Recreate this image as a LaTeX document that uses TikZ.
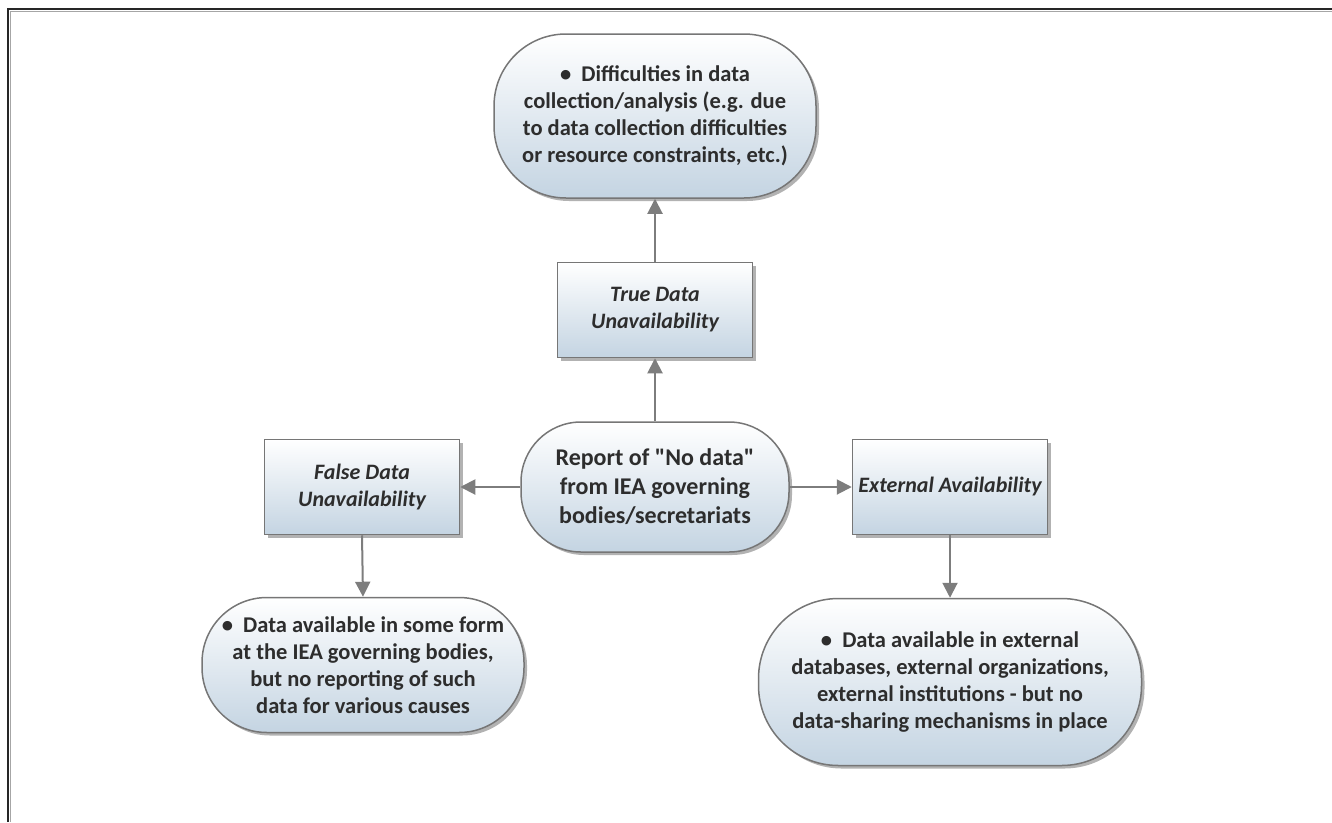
\documentclass[tikz,border=0pt]{standalone}
\usepackage{fontspec}
\setmainfont{Carlito}
\usetikzlibrary{arrows.meta,shadows}
\definecolor{bluegray}{RGB}{196,212,226}
\definecolor{edgegray}{RGB}{118,118,118}
\definecolor{txt}{RGB}{45,45,45}
\definecolor{conngray}{RGB}{125,125,125}
\tikzset{
  bubble/.style={draw=edgegray, line width=1.5pt, top color=white, bottom color=bluegray,
    rounded corners=#1, drop shadow={shadow xshift=3pt, shadow yshift=-3pt, fill=black, opacity=0.3},
    text=txt, align=center, inner sep=0pt, font=\fontsize{22.5}{27}\selectfont\bfseries},
  boxnode/.style={draw=edgegray, line width=1.5pt, top color=white, bottom color=bluegray,
    drop shadow={shadow xshift=3pt, shadow yshift=-3pt, fill=black, opacity=0.3},
    text=txt, align=center, inner sep=0pt, minimum width=195pt, minimum height=95pt,
    font=\fontsize{22}{27}\selectfont\bfseries\itshape},
  conn/.style={draw=conngray, line width=2pt, -{Triangle[length=15pt,width=15pt]}},
}
\begin{document}
\begin{tikzpicture}[x=1pt,y=-1pt]
\useasboundingbox (0,0) rectangle (1332,822);
\draw[line width=2.5pt, black!85] (8,822) -- (8,9) -- (1332,9);
\draw[line width=1.2pt, black!35] (10.8,822) -- (10.8,11.8) -- (1332,11.8);

\node[bubble=72, minimum width=322pt, minimum height=164pt] (diff) at (655,116)
  {\textbullet~ Difficulties in data\\collection/analysis (e.g. due\\to data collection difficulties\\or resource constraints, etc.)};
\node[boxnode] (true) at (655,310) {True Data\\Unavailability};
\node[bubble=60, minimum width=268pt, minimum height=130pt, font=\fontsize{24}{29}\selectfont\bfseries] (rep) at (655,487)
  {Report of \textquotedbl No data\textquotedbl\\from IEA governing\\bodies/secretariats};
\node[boxnode] (false) at (362,487) {False Data\\Unavailability};
\node[boxnode] (ext) at (950,487) {External Availability};
\node[bubble=65, minimum width=322pt, minimum height=135pt] (lft) at (363,665)
  {\textbullet~ Data available in some form\\at the IEA governing bodies,\\but no reporting of such\\data for various causes};
\node[bubble=80, minimum width=383pt, minimum height=167pt] (rgt) at (950,682)
  {\textbullet~ Data available in external\\databases, external organizations,\\external institutions - but no\\data-sharing mechanisms in place};

\draw[conn] (rep.north) -- (true.south);
\draw[conn] (true.north) -- (diff.south);
\draw[conn] (rep.west) -- (false.east);
\draw[conn] (rep.east) -- (ext.west);
\draw[conn] (false.south) -- (lft.north);
\draw[conn] (ext.south) -- (rgt.north);
\end{tikzpicture}
\end{document}
